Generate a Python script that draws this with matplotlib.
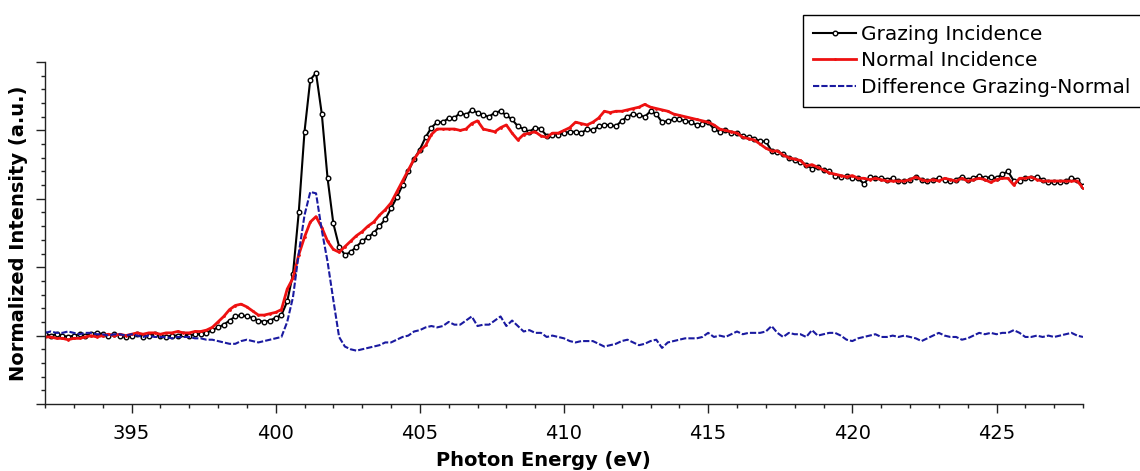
import numpy as np
import matplotlib
matplotlib.use("Agg")
import matplotlib.pyplot as plt
from matplotlib.ticker import MultipleLocator, NullFormatter

# energy grid of the scan (eV), 0.2 eV step
energia = np.round(np.arange(392.0, 428.001, 0.2), 1)

# Grazing incidence (normalized)
grazing = [
    0.01, 0.00, 0.01, 0.00, -0.01, 0.00, 0.01, 0.00, 0.01, 0.02,   # 392
    0.01, 0.00, 0.01, 0.00, -0.01, 0.00, 0.01, -0.01, 0.00, 0.01,  # 394
    0.00, -0.01, 0.00, 0.00, 0.01, 0.00, 0.01, 0.01, 0.02, 0.04,   # 396
    0.06, 0.08, 0.11, 0.14, 0.15, 0.14, 0.13, 0.11, 0.10, 0.11,    # 398
    0.13, 0.15, 0.25, 0.45, 0.90, 1.49, 1.87, 1.92, 1.62, 1.15,    # 400
    0.82, 0.65, 0.59, 0.61, 0.65, 0.69, 0.72, 0.75, 0.80, 0.85,    # 402
    0.93, 1.01, 1.10, 1.20, 1.29, 1.36, 1.45, 1.52, 1.56, 1.56,    # 404
    1.59, 1.59, 1.63, 1.61, 1.65, 1.63, 1.61, 1.60, 1.63, 1.64,    # 406
    1.61, 1.58, 1.53, 1.51, 1.49, 1.52, 1.51, 1.46, 1.47, 1.47,    # 408
    1.48, 1.49, 1.49, 1.48, 1.51, 1.50, 1.53, 1.54, 1.54, 1.53,    # 410
    1.57, 1.60, 1.62, 1.61, 1.60, 1.64, 1.62, 1.56, 1.57, 1.58,    # 412
    1.58, 1.57, 1.56, 1.54, 1.55, 1.56, 1.51, 1.49, 1.50, 1.48,    # 414
    1.48, 1.46, 1.45, 1.44, 1.42, 1.42, 1.35, 1.34, 1.33, 1.30,    # 416
    1.28, 1.27, 1.25, 1.22, 1.23, 1.21, 1.20, 1.17, 1.16, 1.17,    # 418
    1.15, 1.15, 1.11, 1.16, 1.15, 1.15, 1.14, 1.15, 1.13, 1.13,    # 420
    1.14, 1.16, 1.14, 1.13, 1.14, 1.15, 1.14, 1.13, 1.14, 1.16,    # 422
    1.14, 1.15, 1.17, 1.15, 1.16, 1.15, 1.18, 1.20, 1.13, 1.13,    # 424
    1.15, 1.15, 1.16, 1.14, 1.12, 1.12, 1.12, 1.13, 1.15, 1.14,    # 426
    1.09,                                                          # 428
]

# Normal incidence (normalized)
normal = [
    -0.01, -0.01, -0.02, -0.02, -0.03, -0.02, -0.02, -0.01, 0.00, -0.01,  # 392
    0.00, 0.01, 0.00, 0.01, 0.00, 0.01, 0.02, 0.01, 0.02, 0.02,           # 394
    0.01, 0.02, 0.02, 0.03, 0.02, 0.02, 0.03, 0.03, 0.04, 0.06,           # 396
    0.10, 0.14, 0.19, 0.22, 0.23, 0.21, 0.18, 0.15, 0.15, 0.16,           # 398
    0.17, 0.19, 0.34, 0.42, 0.59, 0.72, 0.83, 0.87, 0.79, 0.69,           # 400
    0.63, 0.61, 0.65, 0.69, 0.73, 0.76, 0.80, 0.83, 0.88, 0.92,           # 402
    0.97, 1.05, 1.13, 1.21, 1.29, 1.35, 1.39, 1.47, 1.51, 1.51,           # 404
    1.51, 1.51, 1.50, 1.51, 1.55, 1.57, 1.51, 1.50, 1.49, 1.52,           # 406
    1.54, 1.48, 1.43, 1.47, 1.48, 1.49, 1.46, 1.45, 1.48, 1.48,           # 408
    1.50, 1.52, 1.56, 1.55, 1.54, 1.56, 1.59, 1.64, 1.63, 1.64,           # 410
    1.64, 1.65, 1.66, 1.67, 1.69, 1.67, 1.66, 1.65, 1.64, 1.62,           # 412
    1.61, 1.60, 1.59, 1.58, 1.57, 1.56, 1.54, 1.51, 1.50, 1.49,           # 414
    1.48, 1.45, 1.44, 1.43, 1.40, 1.37, 1.35, 1.35, 1.32, 1.30,           # 416
    1.29, 1.28, 1.24, 1.25, 1.23, 1.21, 1.19, 1.18, 1.17, 1.16,           # 418
    1.17, 1.15, 1.15, 1.14, 1.15, 1.14, 1.13, 1.13, 1.13, 1.13,           # 420
    1.14, 1.16, 1.14, 1.13, 1.14, 1.13, 1.15, 1.14, 1.13, 1.15,           # 422
    1.13, 1.14, 1.15, 1.14, 1.12, 1.14, 1.15, 1.15, 1.10, 1.15,           # 424
    1.15, 1.16, 1.14, 1.13, 1.13, 1.13, 1.13, 1.13, 1.13, 1.13,           # 426
    1.08,                                                                 # 428
]

# Difference grazing - normal
diferenca = [
    0.02, 0.03, 0.02, 0.02, 0.03, 0.02, 0.01, 0.02, 0.02, 0.01,            # 392
    0.01, 0.00, 0.01, 0.01, 0.00, 0.01, 0.00, -0.01, 0.00, -0.01,          # 394
    -0.01, -0.01, -0.02, -0.01, -0.01, -0.01, -0.02, -0.02, -0.03, -0.03,  # 396
    -0.04, -0.05, -0.06, -0.06, -0.04, -0.03, -0.04, -0.05, -0.04, -0.03,  # 398
    -0.02, -0.01, 0.10, 0.28, 0.60, 0.88, 1.05, 1.04, 0.77, 0.54,          # 400
    0.26, -0.01, -0.08, -0.10, -0.11, -0.10, -0.09, -0.08, -0.07, -0.05,   # 402
    -0.05, -0.03, -0.01, 0.00, 0.03, 0.04, 0.06, 0.07, 0.06, 0.07,         # 404
    0.10, 0.08, 0.08, 0.11, 0.14, 0.07, 0.08, 0.08, 0.11, 0.14,            # 406
    0.07, 0.11, 0.07, 0.03, 0.04, 0.02, 0.02, -0.01, 0.00, -0.01,          # 408
    -0.02, -0.04, -0.05, -0.04, -0.04, -0.04, -0.06, -0.08, -0.07, -0.06,  # 410
    -0.04, -0.03, -0.05, -0.07, -0.06, -0.04, -0.03, -0.09, -0.05, -0.04,  # 412
    -0.03, -0.02, -0.02, -0.02, -0.01, 0.02, -0.01, 0.00, -0.01, 0.01,     # 414
    0.03, 0.01, 0.02, 0.02, 0.02, 0.03, 0.07, 0.02, -0.01, 0.02,           # 416
    0.01, 0.01, -0.01, 0.04, 0.00, 0.01, 0.02, 0.02, 0.00, -0.03,          # 418
    -0.04, -0.02, -0.01, 0.00, 0.01, -0.01, -0.01, 0.00, -0.01, 0.00,      # 420
    -0.01, -0.02, -0.04, -0.02, 0.00, 0.02, 0.00, -0.01, -0.01, -0.03,     # 422
    -0.02, 0.00, 0.02, 0.01, 0.02, 0.01, 0.02, 0.02, 0.04, 0.02,           # 424
    -0.01, -0.01, 0.00, -0.01, 0.00, -0.01, 0.00, 0.01, 0.02, 0.00,        # 426
    -0.01,                                                                 # 428
]

fig = plt.figure(figsize=(11.4, 4.71), dpi=100)
ax = fig.add_axes([45 / 1140, 1 - 404 / 471, (1083 - 45) / 1140, (404 - 62) / 471])

ax.plot(energia, grazing, '-', color='black', lw=1.5, marker='o', ms=3.3,
        mfc='white', mec='black', mew=1.0, label='Grazing Incidence')
ax.plot(energia, normal, '-', color='#ee1111', lw=2.0, marker='.', ms=2,
        label='Normal Incidence')
ax.plot(energia, diferenca, color='#1a1aa0', lw=1.5, dashes=(3, 1),
        label='Difference Grazing-Normal')

ax.set_xlim(392, 428)
ax.set_ylim(-0.5, 2.0)

ax.xaxis.set_major_locator(MultipleLocator(5))
ax.xaxis.set_minor_locator(MultipleLocator(1))
ax.yaxis.set_major_locator(MultipleLocator(0.5))
ax.yaxis.set_minor_locator(MultipleLocator(0.1))
ax.yaxis.set_major_formatter(NullFormatter())

for lado in ['top', 'right']:
    ax.spines[lado].set_visible(False)
for lado in ['left', 'bottom']:
    ax.spines[lado].set_color('#222222')
    ax.spines[lado].set_linewidth(1.0)

ax.tick_params(which='major', direction='out', length=6.5, width=1, color='#222222',
               labelsize=14, pad=8)
ax.tick_params(which='minor', direction='out', length=3, width=1, color='#222222')

ax.set_xlabel('Photon Energy (eV)', fontsize=14, fontweight='bold')
ax.xaxis.set_label_coords(0.48, -0.137)
ax.set_ylabel('Normalized Intensity (a.u.)', fontsize=14, fontweight='bold')
ax.yaxis.set_label_coords(-0.0164, 0.5)

leg = fig.legend(loc='upper left', bbox_to_anchor=(803 / 1140, 1 - 15 / 471),
                 bbox_transform=fig.transFigure, fontsize=14.5, frameon=True,
                 fancybox=False, framealpha=1, edgecolor='black', borderpad=0.5,
                 labelspacing=0.36, handlelength=2.15, handletextpad=0.25,
                 borderaxespad=0)
leg.get_frame().set_linewidth(1.0)

fig.savefig('out.png', dpi=100)
